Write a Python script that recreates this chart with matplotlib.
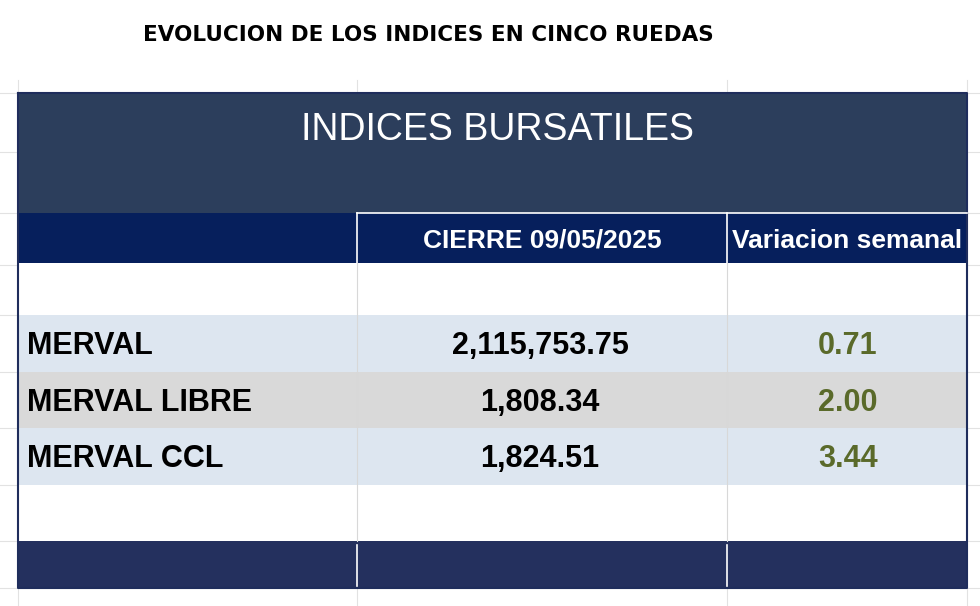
import matplotlib
matplotlib.use("Agg")
from matplotlib import pyplot
from matplotlib.patches import Rectangle

titulo = 'EVOLUCION DE LOS INDICES EN CINCO RUEDAS'
encabezado = 'INDICES BURSATILES'
columnas = ['CIERRE 09/05/2025', 'Variacion semanal']
indices = ['MERVAL', 'MERVAL LIBRE', 'MERVAL CCL']
cierres = [2115753.75, 1808.34, 1824.51]
variaciones = [0.71, 2.00, 3.44]

FONT = ['Liberation Sans Narrow', 'Liberation Sans', 'DejaVu Sans']

fig = pyplot.figure(figsize=(9.8, 6.06), dpi=100)
ax = fig.add_axes([0, 0, 1, 1])
ax.set_xlim(0, 980)
ax.set_ylim(606, 0)
ax.axis('off')

def rect(x0, y0, x1, y1, color, **kw):
  ax.add_patch(Rectangle((x0, y0), x1 - x0, y1 - y0, facecolor=color, edgecolor='none', **kw))

# faint spreadsheet grid outside the table
for y in [93, 152, 213, 265, 315, 372, 428, 485, 541, 588]:
  ax.plot([0, 980], [y, y], color='#e2e2e2', lw=0.8, zorder=0)
for x in [18, 357, 727, 967]:
  ax.plot([x, x], [80, 606], color='#e2e2e2', lw=0.8, zorder=0)

L, R = 18, 967
c1, c2 = 357, 727
rect(L, 93, R, 213, '#2c3e5c')
rect(L, 213, R, 263, '#061f5c')
rect(L, 263, R, 541, 'white')
row_top = [315, 372, 428]
row_colors = ['#dde6f0', '#d9d9d9', '#dde6f0']
for top, col in zip(row_top, row_colors):
  rect(L, top, R, top + 57, col)
rect(L, 541, R, 588, '#24305e')
ax.plot([L, L, R, R, L], [93, 588, 588, 93, 93], color='#1f2d5c', lw=1.5)
for x in [c1, c2]:
  ax.plot([x, x], [213, 263], color='white', lw=1.2)
  ax.plot([x, x], [263, 541], color='#d8d8d8', lw=0.8)
  ax.plot([x, x], [545, 586], color='white', lw=1.2)
ax.plot([c1, R], [213, 213], color='white', lw=1.2)

ax.text(428, 35, titulo, ha='center', va='center', fontsize=15.5, weight='bold', family='DejaVu Sans')
ax.text(497, 130, encabezado, ha='center', va='center', fontsize=27, color='white', family=FONT)
ax.text((c1 + c2) / 2, 241, columnas[0], ha='center', va='center', fontsize=19, weight='bold', color='white', family=FONT)
ax.text((c2 + R) / 2, 241, columnas[1], ha='center', va='center', fontsize=19, weight='bold', color='white', family=FONT)

for top, nombre, cierre, var in zip(row_top, indices, cierres, variaciones):
  yc = top + 31
  ax.text(27, yc, nombre, ha='left', va='center', fontsize=22, weight='bold', family=FONT)
  ax.text(540, yc, f'{cierre:,.2f}', ha='center', va='center', fontsize=22, weight='bold', family=FONT)
  ax.text(848, yc, f'{var:.2f}', ha='center', va='center', fontsize=22, weight='bold', color='#5a6a2a', family=FONT)

fig.savefig('out.png', dpi=100)
